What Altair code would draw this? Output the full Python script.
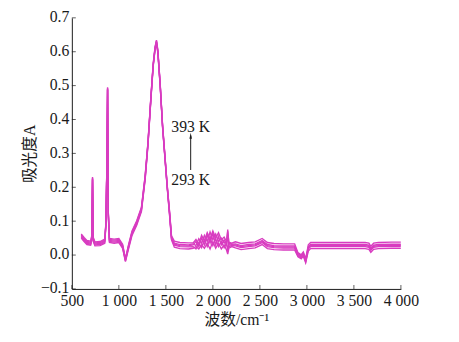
import altair as alt
import pandas as pd

# wavenumber grid (cm-1)
wavenumber = [600, 630, 660, 700, 712, 720, 728, 745, 800, 850,
              862, 872, 880, 888, 900, 950, 1000, 1040, 1070, 1100,
              1140, 1190, 1240, 1280, 1310, 1340, 1365, 1385, 1400, 1415,
              1440, 1465, 1490, 1515, 1540, 1560, 1590, 1650, 1740, 1790,
              1820, 1850, 1880, 1910, 1940, 1970, 2000, 2030, 2060, 2090,
              2120, 2145, 2158, 2170, 2200, 2240, 2300, 2380, 2450, 2524,
              2580, 2650, 2750, 2870, 2905, 2940, 2962, 2987, 3015, 3040,
              3200, 3400, 3620, 3660, 3680, 3710, 3760, 3900, 4000]

temperatures = ["293 K", "318 K", "343 K", "368 K", "393 K"]

a293 = [0.050, 0.040, 0.031, 0.029, 0.045, 0.222, 0.040, 0.027, 0.028, 0.035,
        0.086, 0.245, 0.487, 0.115, 0.037, 0.035, 0.037, 0.020, -0.019, 0.015,
        0.058, 0.088, 0.128, 0.223, 0.325, 0.455, 0.556, 0.606, 0.625, 0.596,
        0.496, 0.376, 0.286, 0.196, 0.115, 0.045, 0.023, 0.019, 0.018, 0.020,
        0.025, 0.018, 0.030, 0.020, 0.035, 0.018, 0.040, 0.020, 0.035, 0.018,
        0.030, 0.015, 0.003, 0.020, 0.025, 0.021, 0.016, 0.019, 0.021, 0.031,
        0.019, 0.016, 0.015, 0.015, -0.005, -0.011, -0.003, -0.023, 0.012, 0.019,
        0.019, 0.019, 0.019, 0.017, 0.008, 0.017, 0.019, 0.020, 0.020]

a318 = [0.053, 0.043, 0.034, 0.032, 0.048, 0.224, 0.043, 0.030, 0.031, 0.038,
        0.088, 0.248, 0.489, 0.118, 0.040, 0.038, 0.040, 0.023, -0.017, 0.018,
        0.062, 0.092, 0.132, 0.227, 0.328, 0.458, 0.558, 0.608, 0.628, 0.598,
        0.498, 0.378, 0.288, 0.198, 0.118, 0.048, 0.029, 0.025, 0.024, 0.025,
        0.018, 0.035, 0.022, 0.045, 0.025, 0.050, 0.028, 0.048, 0.025, 0.040,
        0.022, 0.035, 0.060, 0.025, 0.028, 0.027, 0.022, 0.025, 0.027, 0.037,
        0.025, 0.022, 0.021, 0.021, -0.002, -0.008, 0.000, -0.020, 0.018, 0.025,
        0.025, 0.025, 0.025, 0.023, 0.014, 0.023, 0.025, 0.026, 0.026]

a343 = [0.056, 0.046, 0.037, 0.035, 0.051, 0.226, 0.046, 0.033, 0.034, 0.041,
        0.090, 0.250, 0.491, 0.121, 0.043, 0.041, 0.043, 0.026, -0.015, 0.021,
        0.065, 0.095, 0.135, 0.230, 0.330, 0.460, 0.560, 0.610, 0.630, 0.600,
        0.500, 0.380, 0.290, 0.200, 0.121, 0.051, 0.032, 0.028, 0.027, 0.030,
        0.040, 0.025, 0.050, 0.030, 0.060, 0.035, 0.065, 0.030, 0.055, 0.030,
        0.045, 0.030, 0.075, 0.030, 0.030, 0.030, 0.025, 0.028, 0.030, 0.040,
        0.028, 0.025, 0.024, 0.024, 0.001, -0.005, 0.003, -0.017, 0.021, 0.028,
        0.028, 0.028, 0.028, 0.026, 0.017, 0.026, 0.028, 0.029, 0.029]

a368 = [0.059, 0.049, 0.040, 0.038, 0.054, 0.228, 0.049, 0.036, 0.037, 0.044,
        0.092, 0.252, 0.493, 0.124, 0.046, 0.044, 0.046, 0.029, -0.013, 0.024,
        0.068, 0.098, 0.138, 0.233, 0.332, 0.462, 0.562, 0.612, 0.632, 0.602,
        0.502, 0.382, 0.292, 0.202, 0.124, 0.054, 0.035, 0.031, 0.030, 0.033,
        0.028, 0.048, 0.035, 0.058, 0.040, 0.068, 0.045, 0.062, 0.040, 0.050,
        0.035, 0.042, 0.010, 0.035, 0.032, 0.033, 0.028, 0.031, 0.033, 0.043,
        0.031, 0.028, 0.027, 0.027, 0.004, -0.002, 0.006, -0.014, 0.024, 0.031,
        0.031, 0.031, 0.031, 0.029, 0.020, 0.029, 0.031, 0.032, 0.032]

a393 = [0.062, 0.052, 0.043, 0.041, 0.057, 0.230, 0.052, 0.039, 0.040, 0.047,
        0.094, 0.255, 0.495, 0.127, 0.049, 0.047, 0.049, 0.032, -0.011, 0.027,
        0.071, 0.101, 0.141, 0.236, 0.335, 0.464, 0.564, 0.614, 0.634, 0.604,
        0.504, 0.384, 0.294, 0.204, 0.127, 0.057, 0.041, 0.037, 0.036, 0.036,
        0.046, 0.032, 0.058, 0.042, 0.066, 0.048, 0.071, 0.050, 0.066, 0.045,
        0.053, 0.040, 0.070, 0.038, 0.035, 0.039, 0.034, 0.037, 0.039, 0.049,
        0.037, 0.034, 0.033, 0.033, 0.007, 0.001, 0.009, -0.011, 0.030, 0.037,
        0.037, 0.037, 0.037, 0.035, 0.026, 0.035, 0.037, 0.038, 0.038]

x_ticks = [500, 1000, 1500, 2000, 2500, 3000, 3500, 4000]
y_ticks = [-0.1, 0.0, 0.1, 0.2, 0.3, 0.4, 0.5, 0.6, 0.7]

ann_labels = ["393 K", "293 K"]
ann_w = [1764, 1764]
ann_a = [0.378, 0.222]
arrow_w = [1764]
arrow_from = [0.251]
arrow_to = [0.352]

rows = []
for t, vals in zip(temperatures, [a293, a318, a343, a368, a393]):
    for w, a in zip(wavenumber, vals):
        rows.append({"w": w, "A": a, "T": t})
df = pd.DataFrame(rows)

FONT = "Liberation Serif, Noto Sans CJK SC"
INK = "#1a1a1a"
LINE = "#D83CC0"

W, H = 335, 276
xs = alt.Scale(domain=[500, 4000], nice=False, zero=False)
ys = alt.Scale(domain=[-0.1, 0.7], nice=False, zero=False)

x_axis = alt.Axis(values=x_ticks, title="波数/cm⁻¹", grid=False, tickSize=0,
                  labelExpr="replace(format(datum.value, ','), ',', ' ')",
                  labelFlush=False, labelOverlap=False, labelPadding=4,
                  labelFont=FONT, labelFontSize=16, labelColor=INK,
                  titleFont=FONT, titleFontSize=16, titleFontWeight="normal",
                  titleColor=INK, titlePadding=3, domainColor=INK, domainWidth=1)
y_axis = alt.Axis(values=y_ticks, format=".1f", title="吸光度A", grid=False, tickSize=0,
                  labelOverlap=False, labelPadding=3, labelFlush=False, labelOffset=-1,
                  labelFont=FONT, labelFontSize=16, labelColor=INK,
                  titleFont=FONT, titleFontSize=16, titleFontWeight="normal",
                  titleColor=INK, titlePadding=3, domainColor=INK, domainWidth=1)

lines = alt.Chart(df).mark_line(color=LINE, strokeWidth=1.4, clip=True).encode(
    x=alt.X("w:Q", scale=xs, axis=x_axis),
    y=alt.Y("A:Q", scale=ys, axis=y_axis),
    detail="T:N",
)

ytick = alt.Chart(pd.DataFrame({"A": y_ticks})).mark_tick(
    color=INK, size=4, thickness=1, orient="horizontal").encode(
    y=alt.Y("A:Q", scale=ys, axis=y_axis), x=alt.value(2))

xtick = alt.Chart(pd.DataFrame({"w": x_ticks})).mark_tick(
    color=INK, size=4, thickness=1, orient="vertical").encode(
    x=alt.X("w:Q", scale=xs, axis=x_axis), y=alt.value(H - 2))

ann = alt.Chart(pd.DataFrame({"w": ann_w, "A": ann_a, "label": ann_labels})).mark_text(
    font=FONT, fontSize=16, color=INK, align="center", baseline="middle").encode(
    x=alt.X("w:Q", scale=xs, axis=x_axis), y=alt.Y("A:Q", scale=ys, axis=y_axis),
    text="label:N")

arrow_df = pd.DataFrame({"w": arrow_w, "A": arrow_from, "A2": arrow_to})
shaft = alt.Chart(arrow_df).mark_rule(color=INK, strokeWidth=1).encode(
    x=alt.X("w:Q", scale=xs, axis=x_axis), y=alt.Y("A:Q", scale=ys, axis=y_axis),
    y2="A2:Q")
head = alt.Chart(arrow_df).mark_point(
    shape="M0,-1L0.4,1L-0.4,1Z", filled=True, color=INK, size=40, opacity=1).encode(
    x=alt.X("w:Q", scale=xs, axis=x_axis), y=alt.Y("A2:Q", scale=ys, axis=y_axis))

chart = alt.layer(lines, ytick, xtick, shaft, head, ann).properties(
    width=W, height=H,
    autosize=alt.AutoSizeParams(type="none"),
    padding={"left": 65, "top": 7, "right": 51, "bottom": 51},
).configure_view(stroke=None)

chart.save("out.html", embed_options={"renderer": "svg", "actions": False})
